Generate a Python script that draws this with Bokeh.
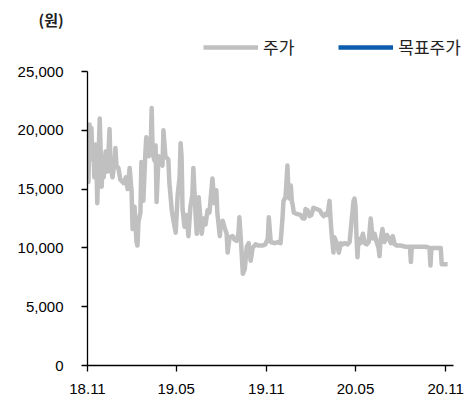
import pandas as pd
from bokeh.plotting import figure
from bokeh.models import (Range1d, FixedTicker, DatetimeTickFormatter, NumeralTickFormatter,
                          Legend, ColumnDataSource)
from bokeh.embed import file_html
from bokeh.resources import INLINE

# ---- data ----
dates = [
    "2018-11-01", "2018-11-03", "2018-11-05", "2018-11-07", "2018-11-09", "2018-11-11", "2018-11-13",
    "2018-11-15", "2018-11-17", "2018-11-19", "2018-11-21", "2018-11-23", "2018-11-26", "2018-11-28",
    "2018-11-30", "2018-12-02", "2018-12-04", "2018-12-08", "2018-12-12", "2018-12-16", "2018-12-18",
    "2018-12-22", "2018-12-26", "2018-12-28", "2018-12-30", "2019-01-03", "2019-01-07", "2019-01-14",
    "2019-01-18", "2019-01-22", "2019-01-26", "2019-01-30", "2019-02-01", "2019-02-05", "2019-02-09",
    "2019-02-11", "2019-02-13", "2019-02-17", "2019-02-19", "2019-02-23", "2019-02-27", "2019-03-01",
    "2019-03-06", "2019-03-10", "2019-03-12", "2019-03-14", "2019-03-18", "2019-03-20", "2019-03-22",
    "2019-03-26", "2019-03-30", "2019-04-03", "2019-04-05", "2019-04-09", "2019-04-15", "2019-04-17",
    "2019-04-22", "2019-04-26", "2019-04-30", "2019-05-04", "2019-05-08", "2019-05-10", "2019-05-12",
    "2019-05-14", "2019-05-18", "2019-05-22", "2019-05-26", "2019-05-30", "2019-06-03", "2019-06-05",
    "2019-06-10", "2019-06-12", "2019-06-16", "2019-06-22", "2019-06-26", "2019-06-30", "2019-07-04",
    "2019-07-08", "2019-07-10", "2019-07-14", "2019-07-18", "2019-07-22", "2019-07-24", "2019-07-29",
    "2019-07-31", "2019-08-04", "2019-08-08", "2019-08-12", "2019-08-14", "2019-08-18", "2019-08-24",
    "2019-08-28", "2019-09-01", "2019-09-05", "2019-09-07", "2019-09-11", "2019-09-14", "2019-09-18",
    "2019-09-22", "2019-09-26", "2019-09-30", "2019-10-04", "2019-10-10", "2019-10-16", "2019-10-24",
    "2019-10-30", "2019-11-04", "2019-11-06", "2019-11-10", "2019-11-18", "2019-11-26", "2019-11-30",
    "2019-12-04", "2019-12-06", "2019-12-10", "2019-12-12", "2019-12-14", "2019-12-16", "2019-12-18",
    "2019-12-21", "2019-12-23", "2019-12-25", "2019-12-27", "2020-01-02", "2020-01-10", "2020-01-14",
    "2020-01-18", "2020-01-20", "2020-01-24", "2020-01-28", "2020-02-01", "2020-02-05", "2020-02-12",
    "2020-02-18", "2020-02-22", "2020-02-26", "2020-03-01", "2020-03-05", "2020-03-09", "2020-03-11",
    "2020-03-13", "2020-03-17", "2020-03-19", "2020-03-23", "2020-03-28", "2020-04-01", "2020-04-05",
    "2020-04-09", "2020-04-15", "2020-04-19", "2020-04-23", "2020-04-27", "2020-04-29", "2020-05-01",
    "2020-05-03", "2020-05-05", "2020-05-07", "2020-05-11", "2020-05-16", "2020-05-20", "2020-05-24",
    "2020-05-28", "2020-06-01", "2020-06-05", "2020-06-09", "2020-06-13", "2020-06-17", "2020-06-19",
    "2020-06-21", "2020-06-25", "2020-06-29", "2020-07-04", "2020-07-08", "2020-07-12", "2020-07-16",
    "2020-07-20", "2020-07-24", "2020-08-01", "2020-08-11", "2020-08-20", "2020-08-22", "2020-08-24",
    "2020-09-01", "2020-09-11", "2020-09-21", "2020-09-29", "2020-10-01", "2020-10-03", "2020-10-12",
    "2020-10-22", "2020-10-24", "2020-10-28", "2020-11-05",
]
price = [
    17800, 15600, 20500, 17500, 20200, 17600, 18500,
    16000, 18800, 17500, 13800, 17000, 21000, 18000,
    15200, 17500, 16000, 18200, 16500, 20100, 17000,
    16000, 17200, 18500, 17000, 16800, 15800, 15500,
    16000, 15000, 16800, 14800, 11600, 13500, 10500,
    10200, 12200, 13000, 17300, 14000, 18000, 19400,
    17800, 18600, 21900, 18000, 17400, 18700, 13900,
    17800, 17500, 17000, 20000, 17800, 17500, 15600,
    13200, 12200, 11300, 14500, 16000, 18900, 17800,
    13300, 11800, 12800, 11000, 13500, 14500, 16800,
    12500, 11200, 14300, 11200, 12500, 12000, 13200,
    13000, 14000, 15900, 13800, 14900, 13000, 11000,
    12000, 12300, 11700, 11200, 9600, 10900, 11000,
    10700, 10600, 11200, 12600, 10000, 7800, 8200,
    10100, 10400, 8900, 10000, 10300, 10200, 10200,
    10300, 10800, 12600, 10500, 10400, 10500, 10400,
    12500, 14000, 14300, 15500, 17000, 15000, 14200,
    15300, 14000, 13600, 13000, 12900, 12800, 12500,
    12500, 13300, 13200, 12700, 12800, 13400, 13300,
    13200, 12900, 12700, 12900, 12800, 14000, 12500,
    11300, 9600, 10900, 10500, 9600, 10400, 10300,
    10400, 10300, 10500, 12300, 14000, 14200, 13500,
    11000, 9200, 10800, 10400, 11200, 10400, 10300,
    10500, 12500, 10800, 11200, 10500, 10000, 9300,
    10600, 11600, 10500, 11100, 10800, 10400, 11000,
    10300, 10200, 10200, 10100, 10100, 8800, 10100,
    10100, 10100, 10100, 10000, 8500, 10000, 10000,
    10000, 8600, 8600, 8600,
]
# 목표주가: no target-price points are drawn in the chart (legend entry only)
target_dates = ["2020-11-05"]
target_price = [float("nan")]

x_tick_dates = ["2018-11-01", "2019-05-01", "2019-11-01", "2020-05-01", "2020-11-01"]
x_axis_start, x_axis_end = "2018-11-01", "2020-11-17"
y_ticks = [0, 5000, 10000, 15000, 20000, 25000]
y_max = 25000

# ---- figure ----
W, H = 468, 397
TOP, BOTTOM, LEFT, RIGHT = 30, 32, 87, 0
frame_h = H - TOP - BOTTOM
frame_w = W - LEFT - RIGHT
axis_h = 294  # pixel height of the 0..25,000 axis
axis_w = 366  # pixel width of the x axis line
p = figure(width=W, height=H, x_axis_type="datetime", output_backend="svg",
           toolbar_location=None, min_border_left=LEFT, min_border_right=RIGHT,
           min_border_top=TOP, min_border_bottom=BOTTOM)
p.outline_line_color = None
p.xgrid.visible = False
p.ygrid.visible = False

p.title.text = "(원)"
p.title.align = "left"
p.title.offset = -49
p.title.standoff = 2
p.title.text_font = "Noto Sans CJK KR"
p.title.text_font_size = "15px"
p.title.text_font_style = "bold"
p.title.text_color = "#222222"

xs, xe = pd.Timestamp(x_axis_start), pd.Timestamp(x_axis_end)
p.x_range = Range1d(xs, xs + (xe - xs) * frame_w / axis_w)
p.y_range = Range1d(0, y_max * frame_h / axis_h)

src = ColumnDataSource(dict(x=pd.to_datetime(dates), y=price))
r1 = p.line("x", "y", source=src, line_color="#C0C0C0", line_width=4.5, line_join="round")
src2 = ColumnDataSource(dict(x=pd.to_datetime(target_dates), y=target_price))
r2 = p.line("x", "y", source=src2, line_color="#0B5BAE", line_width=4.5)

tick_ms = [pd.Timestamp(d).value / 1e6 for d in x_tick_dates]
p.xaxis.ticker = FixedTicker(ticks=tick_ms)
fmt = "%y.%m"
p.xaxis.formatter = DatetimeTickFormatter(days=fmt, months=fmt, years=fmt, hours=fmt,
                                          minutes=fmt, seconds=fmt, milliseconds=fmt,
                                          microseconds=fmt, minsec=fmt, hourmin=fmt)
p.xaxis.bounds = (xs.value / 1e6, xe.value / 1e6)
p.yaxis.ticker = FixedTicker(ticks=y_ticks)
p.yaxis.formatter = NumeralTickFormatter(format="0,0")
p.yaxis.bounds = (0, y_max)

for ax in (p.xaxis[0], p.yaxis[0]):
    ax.axis_line_color = "black"
    ax.axis_line_width = 1.3
    ax.major_tick_line_color = "black"
    ax.major_tick_line_width = 1.3
    ax.major_tick_out = 6
    ax.major_tick_in = 0
    ax.minor_tick_line_color = None
    ax.major_label_text_font = "Liberation Sans"
    ax.major_label_text_font_size = "15px"
    ax.major_label_text_color = "black"
p.xaxis.major_label_standoff = 12
p.yaxis.major_label_standoff = 18

legend = Legend(items=[("주가", [r1]), ("목표주가", [r2])], orientation="horizontal",
                location=(116, frame_h - 29), border_line_color=None, background_fill_alpha=0,
                glyph_width=55, glyph_height=20, label_standoff=5, spacing=44,
                padding=0, margin=0, label_text_font="Noto Sans CJK KR",
                label_text_font_size="17px", label_text_color="#222222")
p.add_layout(legend, "center")

open("out.html", "w").write(file_html(p, INLINE))
